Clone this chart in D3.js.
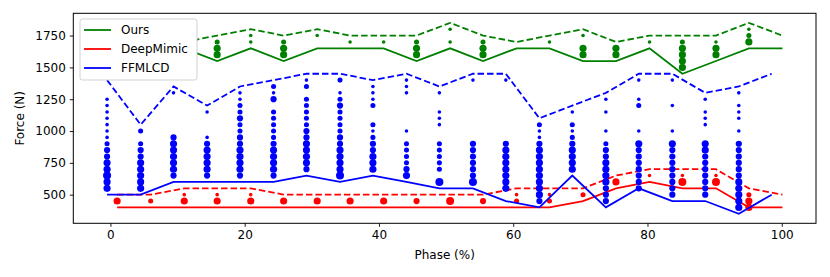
<!DOCTYPE html>
<html>
<head>
<meta charset="utf-8">
<style>
  body { margin: 0; background: #fff; }
  svg { display: block; font-family: "DejaVu Sans", sans-serif; }
</style>
</head>
<body>
<div id="chart"></div>
<script src="https://d3js.org/d3.v7.min.js"></script>
<script>
    const width = 830;
    const height = 277;

    // phase positions of each method's samples
    const oursPhase = [1.0, 6.0, 11.0, 15.9, 20.9, 25.8, 30.8, 35.7, 40.7, 45.6, 50.6, 55.5, 60.5, 65.4, 70.4, 75.3, 80.3, 85.2, 90.2, 95.1, 100.1];
    const deepMimicPhase = [1.0, 6.0, 11.0, 15.9, 20.9, 25.8, 30.8, 35.7, 40.7, 45.6, 50.6, 55.5, 60.5, 65.4, 70.4, 75.3, 80.3, 85.2, 90.2, 95.1, 100.1];
    const ffmlcdPhase = [-0.5, 4.5, 9.4, 14.4, 19.3, 24.3, 29.2, 34.2, 39.1, 44.1, 49.0, 54.0, 58.9, 63.9, 68.8, 73.8, 78.7, 83.7, 88.6, 93.6, 98.5];

    // envelope lines (solid = low, dashed = high)
    const oursLow = [1650, 1650, 1650, 1550, 1650, 1550, 1650, 1650, 1650, 1550, 1650, 1550, 1650, 1650, 1550, 1550, 1650, 1450, 1550, 1650, 1650];
    const oursHigh = [1700, 1700, 1700, 1750, 1800, 1750, 1800, 1750, 1750, 1750, 1850, 1750, 1700, 1750, 1800, 1700, 1750, 1750, 1750, 1850, 1750];
    const deepMimicLow = [400, 400, 400, 400, 400, 400, 400, 400, 400, 400, 400, 400, 400, 400, 450, 550, 600, 550, 550, 400, 400];
    const deepMimicHigh = [500, 500, 550, 550, 550, 500, 500, 500, 500, 500, 500, 500, 550, 550, 550, 650, 700, 700, 700, 550, 500];
    const ffmlcdLow = [500, 500, 600, 600, 600, 600, 650, 600, 650, 600, 550, 550, 450, 400, 650, 400, 550, 450, 450, 350, 500];
    const ffmlcdHigh = [1400, 1050, 1350, 1200, 1350, 1400, 1450, 1450, 1400, 1450, 1350, 1450, 1450, 1100, 1200, 1300, 1450, 1450, 1300, 1350, 1450];

    // samples per phase: [force, count]
    const oursSamples = [
        [], [], [],
        [[1700, 2], [1650, 4], [1600, 4]],
        [[1750, 1], [1700, 1]],
        [[1700, 2], [1650, 4], [1600, 4]],
        [[1750, 1]],
        [[1700, 1]],
        [[1700, 1]],
        [[1700, 2], [1650, 4], [1600, 4]],
        [[1800, 1], [1700, 1]],
        [[1700, 2], [1650, 4], [1600, 4]],
        [],
        [[1700, 1]],
        [[1750, 1], [1650, 4], [1600, 4]],
        [[1650, 4], [1600, 4]],
        [[1700, 1]],
        [[1700, 2], [1650, 4], [1600, 4], [1550, 4], [1500, 4]],
        [[1700, 1], [1650, 4], [1600, 4]],
        [[1800, 1], [1750, 2], [1700, 4]]
    ];
    const deepMimicSamples = [
        [[450, 4]],
        [[450, 2]],
        [[500, 1], [450, 4]],
        [[500, 1], [450, 4]],
        [[500, 1], [450, 4]],
        [[450, 4]],
        [[450, 4]],
        [[450, 4]],
        [[450, 4]],
        [[450, 3]],
        [[450, 5]],
        [[450, 3]],
        [[500, 1], [450, 2]],
        [[500, 1], [450, 2]],
        [[500, 2]],
        [[600, 4]],
        [[650, 1]],
        [[650, 1], [600, 5]],
        [[650, 1], [600, 5]],
        [[500, 2], [450, 4], [400, 4]]
    ];
    const ffmlcdSamples = [
        [[1250, 1], [1200, 1], [1150, 1], [1100, 1], [1050, 1], [1000, 1], [950, 1], [900, 2], [850, 3], [800, 3], [750, 4], [700, 4], [650, 5], [600, 4], [550, 4]],
        [[1000, 2], [900, 2], [850, 3], [800, 3], [750, 4], [700, 4], [650, 4], [600, 4], [550, 4]],
        [[1300, 1], [950, 3], [900, 4], [850, 4], [800, 4], [750, 4], [700, 4], [650, 3]],
        [[1150, 1], [950, 1], [900, 3], [850, 4], [800, 4], [750, 4], [700, 4], [650, 3]],
        [[1300, 1], [1250, 1], [1200, 2], [1150, 2], [1100, 3], [1050, 2], [1000, 2], [950, 3], [900, 3], [850, 4], [800, 4], [750, 4], [700, 4], [650, 3]],
        [[1350, 2], [1300, 1], [1250, 3], [1150, 2], [1100, 2], [1050, 2], [1000, 2], [950, 2], [900, 3], [850, 4], [800, 4], [750, 4], [700, 4], [650, 3]],
        [[1400, 1], [1350, 2], [1250, 2], [1200, 2], [1150, 2], [1100, 2], [1050, 2], [1000, 3], [950, 3], [900, 4], [850, 4], [800, 4], [750, 4], [700, 3]],
        [[1400, 2], [1300, 1], [1250, 2], [1200, 3], [1150, 2], [1100, 2], [1050, 2], [1000, 2], [950, 3], [900, 3], [850, 4], [800, 4], [750, 4], [700, 4], [650, 5]],
        [[1350, 1], [1300, 1], [1250, 1], [1200, 2], [1050, 2], [1000, 1], [950, 2], [900, 3], [850, 3], [800, 4], [750, 4], [700, 4]],
        [[1400, 1], [1350, 1], [1300, 1], [1000, 1], [900, 2], [850, 2], [800, 2], [750, 2], [700, 3], [650, 4]],
        [[1300, 1], [1150, 1], [1100, 1], [1050, 1], [900, 2], [850, 2], [800, 2], [750, 2], [700, 2], [600, 5]],
        [[1400, 1], [900, 3], [850, 3], [800, 3], [750, 3], [700, 3], [650, 3], [600, 5]],
        [[1400, 1], [900, 3], [850, 4], [800, 4], [750, 4], [700, 4], [650, 4], [600, 4], [550, 4]],
        [[1050, 2], [1000, 1], [950, 1], [900, 3], [850, 4], [800, 4], [750, 4], [700, 4], [650, 4], [600, 4], [550, 4], [500, 4], [450, 3]],
        [[1150, 1], [1050, 2], [1000, 1], [950, 2], [900, 3], [850, 4], [800, 4], [750, 4], [700, 4]],
        [[1250, 1], [1150, 1], [1000, 1], [900, 2], [850, 3], [800, 3], [750, 4], [700, 4], [650, 4], [600, 4], [550, 3], [500, 3], [450, 3]],
        [[1400, 1], [1250, 1], [1200, 2], [1000, 1], [900, 4], [850, 3], [800, 3], [750, 3], [700, 3], [650, 3], [600, 3], [550, 3]],
        [[1400, 1], [1200, 1], [1000, 1], [900, 4], [850, 3], [800, 3], [750, 3], [700, 3], [650, 3], [600, 3], [550, 3], [500, 3]],
        [[1250, 1], [1150, 1], [1100, 1], [1050, 1], [900, 4], [850, 4], [800, 3], [750, 3], [700, 3], [650, 3], [600, 3], [550, 3], [500, 3]],
        [[1300, 1], [1200, 1], [1150, 1], [1100, 1], [1000, 1], [900, 3], [850, 3], [800, 3], [750, 3], [700, 3], [650, 3], [600, 4], [550, 4], [500, 4], [450, 4], [400, 4]]
    ];

    const xTicks = [0, 20, 40, 60, 80, 100];
    const yTicks = [500, 750, 1000, 1250, 1500, 1750];

    const plot = { left: 73.3, right: 816, top: 13.3, bottom: 223.3 };

    const svg = d3.select("#chart")
        .append("svg")
        .attr("width", width)
        .attr("height", height);

    const x = d3.scaleLinear().domain([-5.53, 105.1]).range([plot.left, plot.right]);
    const y = d3.scaleLinear().domain([275, 1925]).range([plot.bottom, plot.top]);
    const r = d3.scaleSqrt().domain([0, 5]).range([0, 4]);

    svg.append("clipPath").attr("id", "clip")
        .append("rect")
        .attr("x", plot.left).attr("y", plot.top)
        .attr("width", plot.right - plot.left).attr("height", plot.bottom - plot.top);

    const g = svg.append("g").attr("clip-path", "url(#clip)");

    const series = [
        { name: "Ours", color: "#008000", phase: oursPhase, low: oursLow, high: oursHigh, samples: oursSamples },
        { name: "DeepMimic", color: "#ff0000", phase: deepMimicPhase, low: deepMimicLow, high: deepMimicHigh, samples: deepMimicSamples },
        { name: "FFMLCD", color: "#0000ff", phase: ffmlcdPhase, low: ffmlcdLow, high: ffmlcdHigh, samples: ffmlcdSamples }
    ];

    series.forEach(s => {
        const line = d3.line().x((d, i) => x(s.phase[i])).y(d => y(d));
        g.append("path")
            .attr("d", line(s.low))
            .attr("fill", "none")
            .attr("stroke", s.color)
            .attr("stroke-width", 1.8);
        g.append("path")
            .attr("d", line(s.high))
            .attr("fill", "none")
            .attr("stroke", s.color)
            .attr("stroke-width", 1.8)
            .attr("stroke-dasharray", "6.5,3");

        const pts = [];
        s.samples.forEach((col, i) => col.forEach(p => pts.push({ px: s.phase[i], f: p[0], c: p[1] })));
        g.selectAll(null).data(pts).enter()
            .append("circle")
            .attr("cx", d => x(d.px))
            .attr("cy", d => y(d.f))
            .attr("r", d => r(d.c))
            .attr("fill", s.color);
    });

    // frame
    svg.append("rect")
        .attr("x", plot.left).attr("y", plot.top)
        .attr("width", plot.right - plot.left).attr("height", plot.bottom - plot.top)
        .attr("fill", "none").attr("stroke", "#000").attr("stroke-width", 1);

    const xAxis = svg.append("g")
        .attr("transform", `translate(0,${plot.bottom})`)
        .call(d3.axisBottom(x).tickValues(xTicks).tickSize(3.5).tickPadding(4));
    const yAxis = svg.append("g")
        .attr("transform", `translate(${plot.left},0)`)
        .call(d3.axisLeft(y).tickValues(yTicks).tickSize(3.5).tickPadding(4).tickFormat(d3.format("d")));
    [xAxis, yAxis].forEach(a => {
        a.select(".domain").remove();
        a.selectAll("text").attr("font-size", 12).attr("fill", "#000").attr("font-family", "DejaVu Sans");
        a.selectAll("line").attr("stroke", "#000").attr("stroke-width", 0.9);
    });

    svg.append("text")
        .attr("x", (plot.left + plot.right) / 2).attr("y", 259)
        .attr("text-anchor", "middle").attr("font-size", 12)
        .text("Phase (%)");
    svg.append("text")
        .attr("transform", `translate(24,${(plot.top + plot.bottom) / 2}) rotate(-90)`)
        .attr("text-anchor", "middle").attr("font-size", 12)
        .text("Force (N)");

    // legend
    const legend = svg.append("g");
    legend.append("rect")
        .attr("x", 80).attr("y", 19).attr("width", 117).attr("height", 61)
        .attr("rx", 2.5).attr("fill", "#fff").attr("stroke", "#cccccc").attr("stroke-width", 0.9);
    series.forEach((s, i) => {
        const ly = 30 + i * 19;
        legend.append("line")
            .attr("x1", 84).attr("x2", 111).attr("y1", ly).attr("y2", ly)
            .attr("stroke", s.color).attr("stroke-width", 1.8);
        legend.append("text")
            .attr("x", 121).attr("y", ly + 4.3)
            .attr("font-size", 12)
            .text(s.name);
    });
</script>
</body>
</html>
